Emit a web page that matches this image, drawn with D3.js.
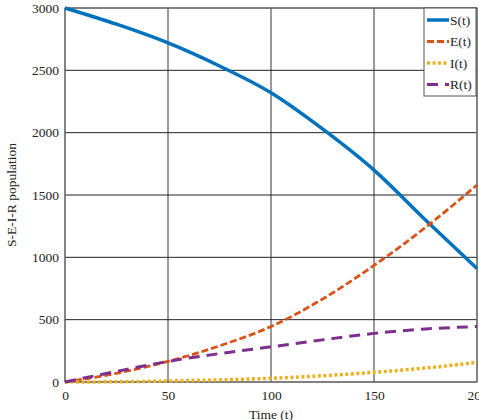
<!DOCTYPE html>
<html>
<head>
<meta charset="utf-8">
<script src="https://cdn.jsdelivr.net/npm/d3@7"></script>
<style>
  body { margin: 0; background: #fff; }
  text { font-family: "Liberation Serif", "DejaVu Serif", serif; }
</style>
</head>
<body>
<svg id="chart" width="479" height="420"></svg>
<script>
const tVals = [0, 25, 50, 75, 100, 125, 150, 175, 200];
const sVals = [3000, 2870, 2720, 2535, 2320, 2030, 1700, 1300, 910];
const eVals = [0, 70, 165, 290, 445, 665, 935, 1240, 1580];
const iVals = [0, 2, 8, 17, 30, 50, 78, 112, 158];
const rVals = [0, 85, 165, 228, 282, 338, 390, 425, 445];
const xTicks = [0, 50, 100, 150, 200];
const yTicks = [0, 500, 1000, 1500, 2000, 2500, 3000];
const seriesNames = ["S(t)", "E(t)", "I(t)", "R(t)"];

const margin = { top: 8, right: 2, bottom: 38, left: 65 },
  width = 479 - margin.left - margin.right,
  height = 420 - margin.top - margin.bottom;

const svg = d3.select("#chart")
  .append("g")
  .attr("transform", `translate(${margin.left},${margin.top})`);

const x = d3.scaleLinear().domain([0, 200]).range([0, width]);
const y = d3.scaleLinear().domain([0, 3000]).range([height, 0]);

// grid
svg.append("g")
  .selectAll("line")
  .data(xTicks)
  .join("line")
  .attr("x1", d => x(d)).attr("x2", d => x(d))
  .attr("y1", 0).attr("y2", height)
  .style("stroke", "#555").style("stroke-width", 1.2);

svg.append("g")
  .selectAll("line")
  .data(yTicks)
  .join("line")
  .attr("x1", 0).attr("x2", width)
  .attr("y1", d => y(d)).attr("y2", d => y(d))
  .style("stroke", "#222").style("stroke-width", 1);

// axes
const xAxis = svg.append("g")
  .attr("transform", `translate(0,${height})`)
  .call(d3.axisBottom(x).tickValues(xTicks).tickFormat(d3.format("d")).tickSize(0).tickPadding(8));
const yAxis = svg.append("g")
  .call(d3.axisLeft(y).tickValues(yTicks).tickFormat(d3.format("d")).tickSize(0).tickPadding(6));
[xAxis, yAxis].forEach(a => {
  a.select(".domain").remove();
  a.selectAll("text").style("font-size", "13.5px").style("fill", "#222")
    .style("font-family", "'Liberation Serif', serif");
});

// frame
svg.append("rect")
  .attr("width", width).attr("height", height)
  .style("fill", "none").style("stroke", "#777").style("stroke-width", 1.2);

const styles = [
  { color: "#0072BD", dash: null, w: 3.5 },
  { color: "#D95319", dash: "7,3", w: 2.8 },
  { color: "#EDB120", dash: "3,2.5", w: 3.5 },
  { color: "#7E2F8E", dash: "11,7", w: 3 }
];
const allVals = [sVals, eVals, iVals, rVals];

const line = d3.line()
  .x(d => x(d[0]))
  .y(d => y(d[1]))
  .curve(d3.curveMonotoneX);

allVals.forEach((vals, k) => {
  svg.append("path")
    .datum(tVals.map((t, j) => [t, vals[j]]))
    .attr("d", line)
    .style("fill", "none")
    .style("stroke", styles[k].color)
    .style("stroke-width", styles[k].w)
    .style("stroke-dasharray", styles[k].dash);
});

// legend
const lg = svg.append("g").attr("transform", `translate(${width - 53},0)`);
lg.append("rect")
  .attr("width", 52).attr("height", 88)
  .style("fill", "#fff").style("stroke", "#555").style("stroke-width", 1);
seriesNames.forEach((name, k) => {
  const yy = 12 + k * 21.5;
  lg.append("line")
    .attr("x1", 3).attr("x2", 25).attr("y1", yy).attr("y2", yy)
    .style("stroke", styles[k].color)
    .style("stroke-width", styles[k].w)
    .style("stroke-dasharray", styles[k].dash);
  lg.append("text")
    .attr("x", 26).attr("y", yy + 4.5)
    .style("font-size", "13.5px").style("fill", "#222")
    .text(name);
});

// axis titles
svg.append("text")
  .attr("x", width / 2).attr("y", height + 37)
  .style("text-anchor", "middle").style("font-size", "13.5px").style("fill", "#222")
  .text("Time (t)");
svg.append("text")
  .attr("transform", "rotate(-90)")
  .attr("x", -height / 2).attr("y", -49)
  .style("text-anchor", "middle").style("font-size", "13.5px").style("fill", "#222")
  .text("S-E-I-R population");
</script>
</body>
</html>
